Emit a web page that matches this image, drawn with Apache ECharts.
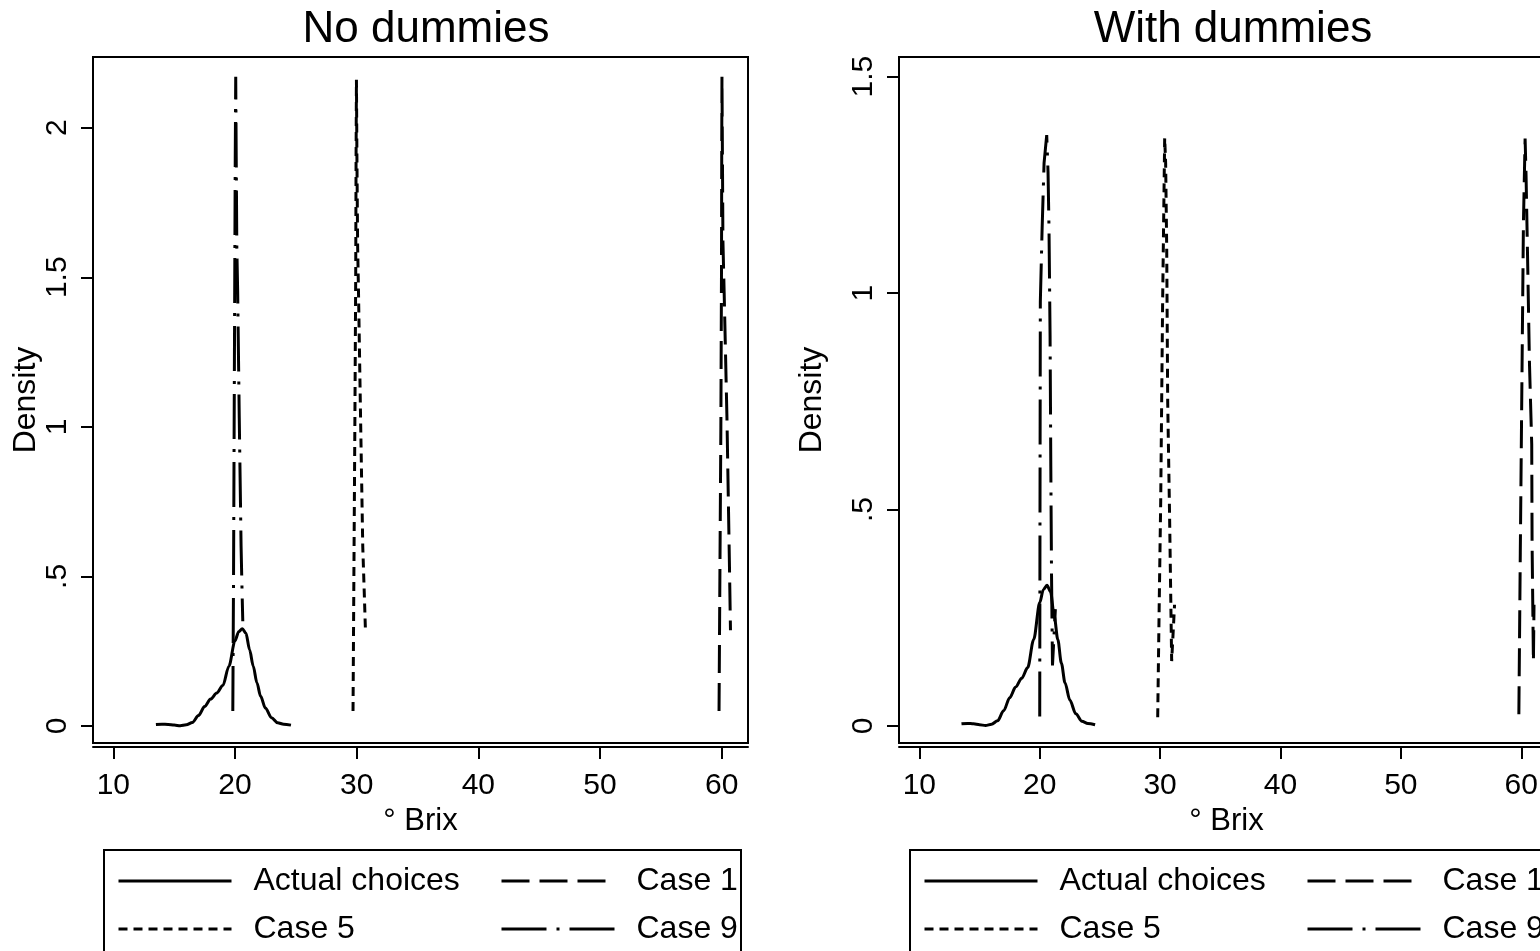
<!DOCTYPE html>
<html>
<head>
<meta charset="utf-8">
<title>Brix densities</title>
<script src="https://cdn.jsdelivr.net/npm/echarts@6/dist/echarts.min.js"></script>
<style>
  html, body { margin: 0; padding: 0; background: #fff; overflow: hidden; }
  /* the right panel runs past the window edge, as in the source figure */
  #chart { width: 1580px; height: 951px; }
</style>
</head>
<body>
<div id="chart"></div>
<script>
// tick labels
const xTicks = [10, 20, 30, 40, 50, 60];
const yTicksNoDum = [0, 0.5, 1, 1.5, 2];
const yTicksWithDum = [0, 0.5, 1, 1.5];

// actual choices (same sample in both panels)
const actualX = [13.5, 14.0, 14.5, 15.0, 15.5, 16.0, 16.5, 17.0, 17.5, 18.0, 18.5, 19.0, 19.5, 20.0, 20.3, 20.6, 20.9, 21.2, 21.5, 21.8, 22.1, 22.5, 23.0, 23.5, 24.0, 24.6];
const actualY = [0.005, 0.006, 0.005, 0.003, 0.001, 0.004, 0.012, 0.035, 0.065, 0.09, 0.11, 0.135, 0.2, 0.285, 0.315, 0.325, 0.31, 0.255, 0.2, 0.145, 0.1, 0.06, 0.028, 0.011, 0.006, 0.003];

// no dummies
const noDumCase1X = [59.78, 59.85, 59.93, 59.98, 60.0, 60.02, 60.06, 60.1, 60.2, 60.43, 60.63, 60.72];
const noDumCase1Y = [0.05, 0.5, 1.0, 1.5, 1.9, 2.17, 1.9, 1.62, 1.45, 1.03, 0.55, 0.32];
const noDumCase5X = [29.7, 29.77, 29.85, 29.92, 29.95, 29.98, 30.02, 30.08, 30.15, 30.32, 30.5, 30.62, 30.72];
const noDumCase5Y = [0.05, 0.5, 1.0, 1.5, 1.9, 2.16, 1.9, 1.6, 1.45, 1.03, 0.6, 0.45, 0.32];
const noDumCase9X = [19.82, 19.88, 19.93, 19.98, 20.02, 20.06, 20.1, 20.15, 20.22, 20.35, 20.5, 20.58, 20.64];
const noDumCase9Y = [0.05, 0.5, 1.0, 1.5, 1.9, 2.17, 1.9, 1.6, 1.45, 1.03, 0.6, 0.45, 0.35];

// with dummies
const withDumCase1X = [59.8, 59.92, 60.07, 60.18, 60.32, 60.4, 60.54, 60.68, 60.87, 60.9, 61.01, 61.06];
const withDumCase1Y = [0.027, 0.4, 0.84, 1.16, 1.357, 1.27, 1.06, 0.84, 0.65, 0.42, 0.149, 0.28];
const withDumCase5X = [29.8, 29.92, 30.05, 30.21, 30.38, 30.46, 30.55, 30.63, 30.79, 30.96, 31.2];
const withDumCase5Y = [0.02, 0.27, 0.52, 0.98, 1.358, 1.3, 1.1, 0.75, 0.48, 0.15, 0.28];
const withDumCase9X = [20.0, 20.02, 20.05, 20.2, 20.36, 20.58, 20.69, 20.77, 20.86, 20.92, 20.98, 21.06, 21.3];
const withDumCase9Y = [0.022, 0.45, 0.98, 1.15, 1.3, 1.365, 1.28, 1.15, 0.9, 0.6, 0.35, 0.14, 0.27];

const FONT = "'Liberation Sans', Arial, Helvetica, sans-serif";
const BLACK = '#000';

const dashes = {
  'Actual choices': 'solid',
  'Case 1': [28, 10],
  'Case 5': [9, 6],
  'Case 9': [45, 10, 3, 10]
};

function pairs(xs, ys) {
  return xs.map((x, i) => [x, ys[i]]);
}

function curve(name, idx, xs, ys) {
  return {
    name,
    type: 'line',
    xAxisIndex: idx,
    yAxisIndex: idx,
    data: pairs(xs, ys),
    symbol: 'none',
    showSymbol: false,
    smooth: name === 'Actual choices' ? 0.3 : false,
    smoothMonotone: 'x',
    lineStyle: { color: BLACK, width: 3, type: dashes[name], cap: 'butt' },
    itemStyle: { color: BLACK },
    emphasis: { disabled: true }
  };
}

function yLabel(v) {
  return v === 0 ? '0' : String(v).replace(/^0\./, '.');
}

function xAxisFor(idx, min, max) {
  return {
    type: 'value',
    gridIndex: idx,
    min,
    max,
    offset: 4,
    name: '° Brix',
    nameLocation: 'middle',
    nameGap: 48,
    nameTextStyle: { fontFamily: FONT, fontSize: 31, color: BLACK },
    axisLine: { show: true, onZero: false, lineStyle: { color: BLACK, width: 2 } },
    axisTick: { show: true, length: 12, lineStyle: { color: BLACK, width: 2 }, customValues: xTicks },
    axisLabel: { fontFamily: FONT, fontSize: 30, color: BLACK, margin: 24, customValues: xTicks },
    splitLine: { show: false }
  };
}

function yAxisFor(idx, min, max, ticks) {
  return {
    type: 'value',
    gridIndex: idx,
    min,
    max,
    name: 'Density',
    nameLocation: 'middle',
    nameGap: idx === 0 ? 46 : 71,
    nameTextStyle: { fontFamily: FONT, fontSize: 32, color: BLACK },
    axisLine: { show: true, onZero: false, lineStyle: { color: BLACK, width: 2 } },
    axisTick: { show: true, length: 12, lineStyle: { color: BLACK, width: 2 }, customValues: ticks },
    axisLabel: {
      fontFamily: FONT, fontSize: 30, color: BLACK, rotate: 90, margin: 20,
      customValues: ticks, formatter: yLabel
    },
    splitLine: { show: false }
  };
}

// one legend per entry so the 2x2 boxes line up like the Stata key
function legendItem(name, left, top) {
  return {
    data: [name],
    left,
    top,
    orient: 'horizontal',
    padding: 0,
    itemWidth: 113,
    itemHeight: 14,
    selectedMode: false,
    itemStyle: { color: 'rgba(0,0,0,0)', borderWidth: 0, opacity: 0 },
    lineStyle: { width: 3 },
    textStyle: {
      fontFamily: FONT, fontSize: 32, color: BLACK,
      lineHeight: 36, padding: [0, 0, 0, 17]
    }
  };
}

const chart = echarts.init(document.getElementById('chart'));

chart.setOption({
  animation: false,
  backgroundColor: '#fff',
  title: [
    { text: 'No dummies', left: 421, top: 3, textAlign: 'center',
      textStyle: { fontFamily: FONT, fontSize: 44, fontWeight: 'normal', color: BLACK } },
    { text: 'With dummies', left: 1228, top: 3, textAlign: 'center',
      textStyle: { fontFamily: FONT, fontSize: 44, fontWeight: 'normal', color: BLACK } }
  ],
  grid: [
    { left: 93, top: 57, width: 655, height: 686, show: true, borderColor: BLACK, borderWidth: 2, backgroundColor: 'transparent' },
    { left: 899, top: 57, width: 655, height: 686, show: true, borderColor: BLACK, borderWidth: 2, backgroundColor: 'transparent' }
  ],
  xAxis: [
    xAxisFor(0, 8.33, 62.16),
    xAxisFor(1, 8.31, 62.72)
  ],
  yAxis: [
    yAxisFor(0, -0.0568, 2.2363, yTicksNoDum),
    yAxisFor(1, -0.0393, 1.5454, yTicksWithDum)
  ],
  legend: [
    legendItem('Actual choices', 117, 863),
    legendItem('Case 1', 500, 863),
    legendItem('Case 5', 117, 911),
    legendItem('Case 9', 500, 911),
    legendItem('Actual choices', 923, 863),
    legendItem('Case 1', 1306, 863),
    legendItem('Case 5', 923, 911),
    legendItem('Case 9', 1306, 911)
  ],
  graphic: [
    { type: 'rect', shape: { x: 104, y: 850, width: 637, height: 130 },
      style: { fill: 'none', stroke: BLACK, lineWidth: 2 } },
    { type: 'rect', shape: { x: 910, y: 850, width: 637, height: 130 },
      style: { fill: 'none', stroke: BLACK, lineWidth: 2 } }
  ],
  series: [
    curve('Actual choices', 0, actualX, actualY),
    curve('Case 1', 0, noDumCase1X, noDumCase1Y),
    curve('Case 5', 0, noDumCase5X, noDumCase5Y),
    curve('Case 9', 0, noDumCase9X, noDumCase9Y),
    curve('Actual choices', 1, actualX, actualY),
    curve('Case 1', 1, withDumCase1X, withDumCase1Y),
    curve('Case 5', 1, withDumCase5X, withDumCase5Y),
    curve('Case 9', 1, withDumCase9X, withDumCase9Y)
  ]
});
</script>
</body>
</html>
